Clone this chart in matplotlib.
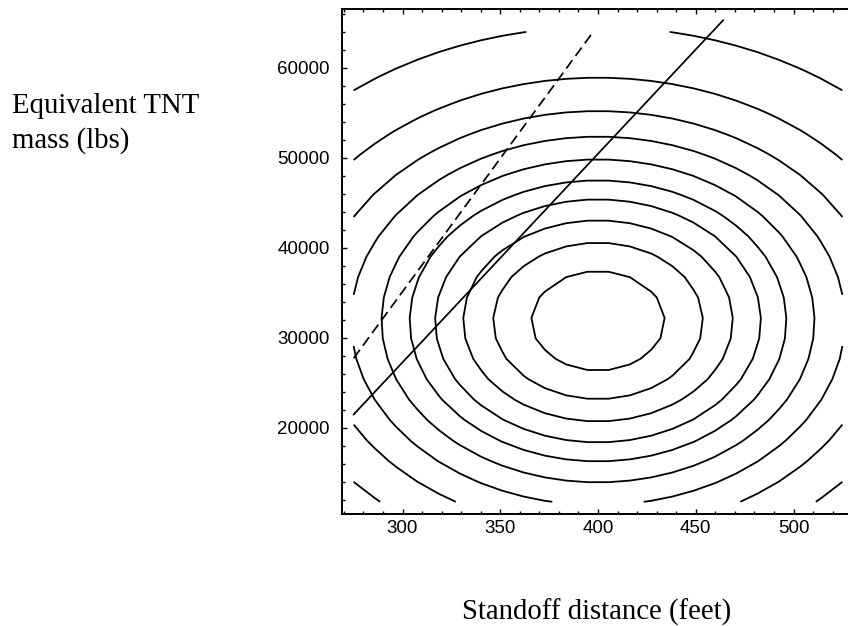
import numpy as np
import matplotlib
matplotlib.use("Agg")
import matplotlib.pyplot as plt
from matplotlib.ticker import MultipleLocator, FixedLocator

# Response surface: elliptical contours around the optimum point
center_distance = 400.0   # ft
center_mass = 31900.0     # lbs
lbs_per_ft = 162.0        # ellipse aspect (mass units per foot)
contour_levels = [5530, 8690, 11170, 13500, 15610, 17940, 20470, 23310, 27020, 32650]

# Region over which the surface is evaluated
distance_range = [275, 525]
mass_range = [11800, 64000]
grid_points = 24

# Boundary lines
solid_distance = [275, 464]
solid_mass = [21500, 65300]
dashed_distance = [275, 397]
dashed_mass = [27750, 63850]

# Ticks
tick_distance = [300, 350, 400, 450, 500]
tick_mass = [20000, 30000, 40000, 50000, 60000]

W, H = 848, 626
fig = plt.figure(figsize=(W / 100, H / 100), dpi=100)
fig.patch.set_facecolor("white")

ax_left, ax_top, ax_bottom = 342.3, 9.0, 513.5
xlim = (269.2, 530.8)
ylim = (10500, 66550)
px_per_ft = 1.955
ax_w = (xlim[1] - xlim[0]) * px_per_ft
ax = fig.add_axes([ax_left / W, (H - ax_bottom) / H, ax_w / W, (ax_bottom - ax_top) / H])

# Evaluate the surface on a coarse grid
xs = np.linspace(distance_range[0], distance_range[1], grid_points)
ys = np.linspace(mass_range[0], mass_range[1], grid_points)
X, Y = np.meshgrid(xs, ys)
Z = np.hypot((X - center_distance) * lbs_per_ft, Y - center_mass)
ax.contour(X, Y, Z, levels=contour_levels, colors="black", linewidths=1.3)

ax.plot(solid_distance, solid_mass, color="black", linewidth=1.25)
ax.plot(dashed_distance, dashed_mass, color="black", linewidth=1.25,
        linestyle=(0, (6.0, 3.0)))

ax.set_xlim(*xlim)
ax.set_ylim(*ylim)

ax.xaxis.set_major_locator(FixedLocator(tick_distance))
ax.xaxis.set_minor_locator(MultipleLocator(10))
ax.yaxis.set_major_locator(FixedLocator(tick_mass))
ax.yaxis.set_minor_locator(MultipleLocator(2000))
ax.set_xticklabels([str(v) for v in tick_distance])
ax.set_yticklabels([str(v) for v in tick_mass])

ax.tick_params(which="both", direction="in", top=True, right=True,
               width=1.0, colors="black")
ax.tick_params(which="major", length=3.5)
ax.tick_params(which="minor", length=2.2)
ax.tick_params(axis="x", which="major", pad=4.5)
ax.tick_params(axis="y", which="major", pad=8.9)
for lab in ax.get_xticklabels() + ax.get_yticklabels():
    lab.set_fontfamily("Liberation Sans")
    lab.set_fontsize(13.5)
    lab.set_color("black")

for s in ax.spines.values():
    s.set_linewidth(1.4)
    s.set_color("black")

serif = "Liberation Serif"
fig.text(12 / W, 1 - 113 / H, "Equivalent TNT", family=serif, fontsize=20.7,
         ha="left", va="baseline")
fig.text(12 / W, 1 - 148 / H, "mass (lbs)", family=serif, fontsize=20.7,
         ha="left", va="baseline")
fig.text(461.7 / W, 1 - 620 / H, "Standoff distance (feet)", family=serif,
         fontsize=20.7, ha="left", va="baseline")

fig.savefig("out.png", dpi=100)
